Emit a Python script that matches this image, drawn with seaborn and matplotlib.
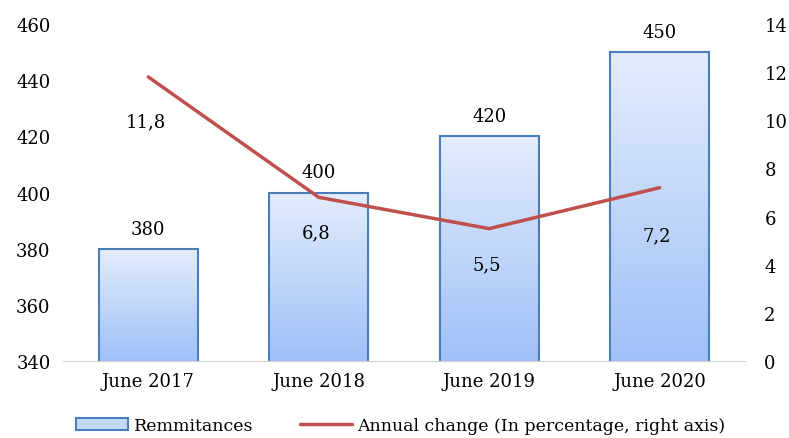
import numpy as np
import pandas as pd
import seaborn as sns
import matplotlib.pyplot as plt
from matplotlib.patches import Patch
from matplotlib.lines import Line2D
from matplotlib.colors import LinearSegmentedColormap

periods = ["June 2017", "June 2018", "June 2019", "June 2020"]
remittances = [380, 400, 420, 450]
annual_change = [11.8, 6.8, 5.5, 7.2]
change_labels = ["11,8", "6,8", "5,5", "7,2"]

sns.set_style("white")
plt.rcParams['font.family'] = ['DejaVu Serif']
plt.rcParams['font.size'] = 13
plt.rcParams['text.color'] = 'black'
plt.rcParams['xtick.color'] = 'black'
plt.rcParams['ytick.color'] = 'black'

df = pd.DataFrame({"period": periods, "remit": remittances, "change": annual_change})

fig = plt.figure(figsize=(7.89, 4.39), dpi=100)
ax = fig.add_axes([0.080, 0.1754, 0.864, 0.7676])

sns.barplot(data=df, x="period", y="remit", ax=ax, width=0.58,
            color="#c5d9f8", edgecolor="#4a7ebb", linewidth=1.5)

# gradient fill inside bars
grad = np.linspace(0, 1, 256).reshape(-1, 1)
cmap = LinearSegmentedColormap.from_list("g", ["#9fc0f7", "#e3edfc"])
for bar in ax.patches:
    x0, y0 = bar.get_x(), bar.get_y()
    w, h = bar.get_width(), bar.get_height()
    img = ax.imshow(grad, cmap=cmap, extent=[x0, x0 + w, 340, y0 + h],
                    origin="lower", aspect="auto", zorder=bar.get_zorder() - 0.1)
    img.set_clip_path(bar)
    bar.set_facecolor("none")
ax.set_xlim(-0.5, 3.5)
ax.set_ylim(340, 460)

for i, v in enumerate(remittances):
    ax.annotate(str(v), (i, v), xytext=(0, 8), textcoords="offset points",
                ha="center", va="bottom")

ax.set_yticks(range(340, 461, 20))
ax.set_xlabel("")
ax.set_ylabel("")
for s in ["top", "right", "left"]:
    ax.spines[s].set_visible(False)
ax.spines["bottom"].set_color("#d0d0d0")
ax.tick_params(axis="both", length=0, labelsize=13)
ax.tick_params(axis="x", pad=8)
ax.tick_params(axis="y", pad=9)

ax2 = ax.twinx()
sns.lineplot(x=np.arange(len(periods)), y=annual_change, ax=ax2,
             color="#c0504d", linewidth=2.5)
ax2.set_ylim(0, 14)
ax2.set_yticks(range(0, 15, 2))
ax2.tick_params(axis="y", length=0, labelsize=13, pad=14)
for s in ax2.spines.values():
    s.set_visible(False)
offsets = [-32, -25, -26, -34]
for i, (v, lab) in enumerate(zip(annual_change, change_labels)):
    ax2.annotate(lab, (i, v), xytext=(-2, offsets[i]), textcoords="offset points",
                 ha="center", va="center")

handles = [Patch(facecolor="#c5d9f8", edgecolor="#4a7ebb", linewidth=1.5),
           Line2D([], [], color="#c0504d", linewidth=2.5)]
fig.legend(handles, ["Remmitances", "Annual change (In percentage, right axis)"],
           loc="lower center", bbox_to_anchor=(0.508, -0.026), ncol=2, frameon=False,
           fontsize=12.5, handlelength=3.0, handletextpad=0.3, columnspacing=2.7)

fig.savefig("out.png", dpi=100)
